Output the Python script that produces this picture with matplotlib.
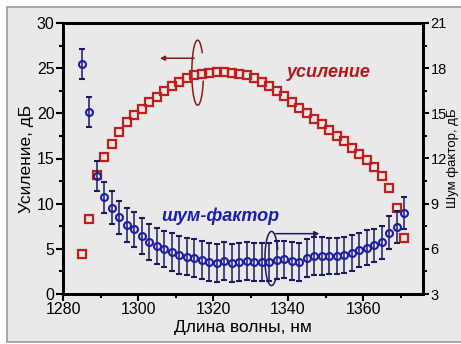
""" Gain and noise figure vs wavelength, two y axes.
"""
import matplotlib
matplotlib.use('Agg')
import matplotlib.pyplot as plt
from matplotlib.patches import Arc, Rectangle
from matplotlib.ticker import MultipleLocator

plt.rcParams['font.family'] = ['Liberation Sans', 'DejaVu Sans']

# wavelength, nm (same grid for both curves)
wavelength = [1285, 1287, 1289, 1291, 1293, 1295, 1297, 1299, 1301, 1303,
              1305, 1307, 1309, 1311, 1313, 1315, 1317, 1319, 1321, 1323,
              1325, 1327, 1329, 1331, 1333, 1335, 1337, 1339, 1341, 1343,
              1345, 1347, 1349, 1351, 1353, 1355, 1357, 1359, 1361, 1363,
              1365, 1367, 1369, 1371]

# gain, dB (left axis)
gain = [4.4, 8.3, 13.2, 15.2, 16.6, 17.9, 19.0, 19.8, 20.5, 21.2,
        21.8, 22.5, 23.0, 23.5, 23.9, 24.2, 24.4, 24.5, 24.6, 24.6,
        24.5, 24.4, 24.2, 23.9, 23.5, 23.0, 22.5, 21.9, 21.3, 20.6,
        20.0, 19.4, 18.8, 18.2, 17.5, 16.9, 16.2, 15.5, 14.8, 14.1,
        13.1, 11.7, 9.5, 6.2]

# noise figure, dB (right axis) and its error
noise = [18.3, 15.1, 10.85, 9.42, 8.73, 8.09, 7.58, 7.30, 6.85, 6.47,
         6.19, 5.97, 5.81, 5.59, 5.48, 5.37, 5.26, 5.14, 5.08, 5.21,
         5.08, 5.14, 5.19, 5.14, 5.14, 5.14, 5.26, 5.30, 5.21, 5.14,
         5.37, 5.52, 5.52, 5.52, 5.52, 5.59, 5.74, 5.92, 6.08, 6.25,
         6.43, 7.07, 7.47, 8.36]
noise_err = [1.0, 1.0, 1.0, 1.05, 1.1, 1.1, 1.15, 1.15, 1.2, 1.2,
             1.2, 1.2, 1.25, 1.25, 1.25, 1.25, 1.25, 1.25, 1.25, 1.25,
             1.25, 1.25, 1.25, 1.25, 1.25, 1.25, 1.25, 1.25, 1.25, 1.25,
             1.25, 1.25, 1.25, 1.2, 1.2, 1.2, 1.2, 1.15, 1.15, 1.1,
             1.1, 1.1, 1.05, 1.05]

RED = '#c21e1e'
TXT_RED = '#b5161a'
BLUE = '#1c1ca8'
NAVY = '#1a1a60'
BG = '#e9e9e9'

fig = plt.figure(figsize=(4.61, 3.44), dpi=100)
fig.patch.set_facecolor('white')
fig.patches.append(Rectangle((7 / 461, 2 / 344), 1.0, 335 / 344,
                             transform=fig.transFigure, facecolor=BG,
                             edgecolor='#9a9a9a', linewidth=1.2, zorder=-10))

ax = fig.add_axes([63 / 461, 1 - 294 / 344, 360 / 461, 271 / 344])
ax.set_facecolor(BG)
ax.plot(wavelength, gain, 's', mfc='none', mec=RED, ms=5.5, mew=1.6)

ax.set_xlim(1280, 1376)
ax.set_ylim(0, 30)
ax.xaxis.set_major_locator(MultipleLocator(20))
ax.xaxis.set_minor_locator(MultipleLocator(10))
ax.yaxis.set_major_locator(MultipleLocator(5))
ax.yaxis.set_minor_locator(MultipleLocator(2.5))
ax.tick_params(which='both', direction='out', width=1.5, top=False,
               labelsize=11.5, pad=1)
ax.tick_params(which='major', length=5)
ax.tick_params(which='minor', length=3)
for s in ax.spines.values():
    s.set_linewidth(2)
ax.set_xlabel('Длина волны, нм', fontsize=12.5, labelpad=2)
ax.set_ylabel('Усиление, дБ', fontsize=12.5, labelpad=2)

ax2 = ax.twinx()
ax2.errorbar(wavelength, noise, yerr=noise_err, fmt='o', mfc='none', mec=BLUE,
             ms=5, mew=1.5, ecolor=NAVY, elinewidth=1.1, capsize=2.5, capthick=1.1)
ax2.set_ylim(3, 21)
ax2.yaxis.set_major_locator(MultipleLocator(3))
ax2.yaxis.set_minor_locator(MultipleLocator(1.5))
ax2.tick_params(which='both', direction='out', width=1.5, labelsize=10.5, pad=1)
ax2.tick_params(which='major', length=4.5)
ax2.tick_params(which='minor', length=3)
for s in ax2.spines.values():
    s.set_linewidth(2)
ax2.set_ylabel('Шум фактор, дБ', fontsize=9.5, rotation=90)
ax2.yaxis.set_label_coords(1.068, 0.5)

# curve labels
ax.text(1350.8, 24.5, 'усиление', color=TXT_RED, fontsize=13, fontweight='bold',
        fontstyle='italic', ha='center', va='center')
ax.text(1321.9, 8.6, 'шум-фактор', color=BLUE, fontsize=13, fontweight='bold',
        fontstyle='italic', ha='center', va='center')

# axis pointers: ellipse around a curve plus an arrow to its axis
ax.add_patch(Arc((1315.9, 24.5), 3.1, 7.2, theta1=60, theta2=330,
                 color='#8b1a1a', lw=1.1))
ax.annotate('', xy=(1305.1, 26.1), xytext=(1315.7, 26.1),
            arrowprops=dict(arrowstyle='-|>', color='#8b1a1a', lw=1.1,
                            mutation_scale=7))
ax.add_patch(Arc((1335.6, 3.93), 3.5, 6.0, theta1=30, theta2=300,
                 color=NAVY, lw=1.1))
ax.annotate('', xy=(1349.1, 6.68), xytext=(1336.0, 6.68),
            arrowprops=dict(arrowstyle='-|>', color=NAVY, lw=1.1,
                            mutation_scale=7))

fig.savefig('out.png', dpi=100)
